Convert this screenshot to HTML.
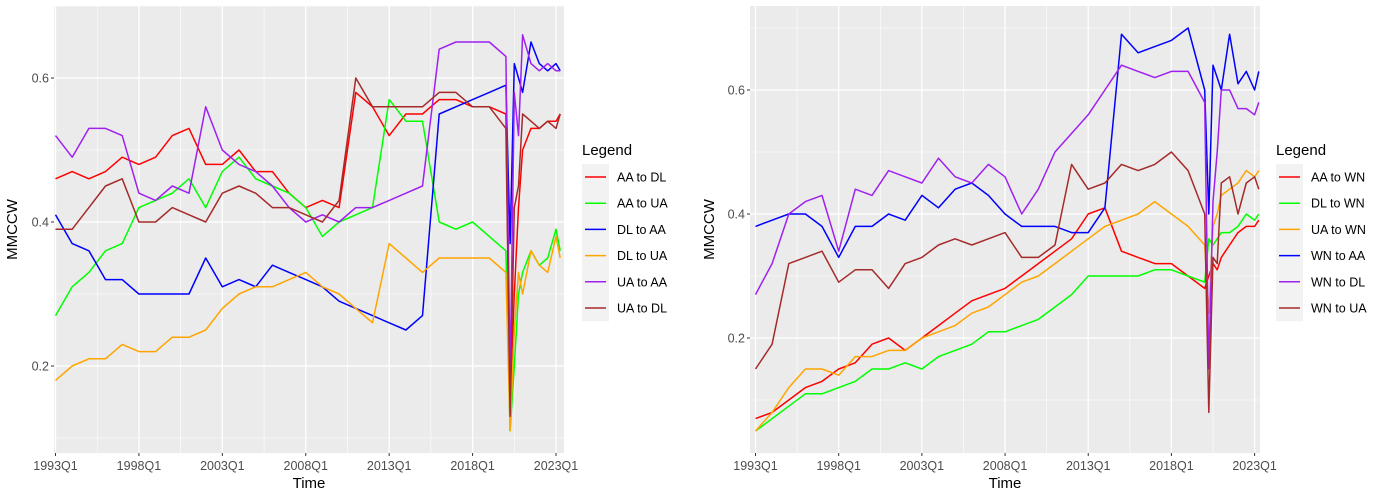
<!DOCTYPE html>
<html><head><meta charset="utf-8"><style>
body{margin:0;background:#fff;}
svg{display:block;font-family:"Liberation Sans",Arial,sans-serif;}
</style></head><body>
<svg id="c" width="1386" height="495" viewBox="0 0 1386 495"></svg>
<script>
const quarters=[0,4,8,12,16,20,24,28,32,36,40,44,48,52,56,60,64,68,72,76,80,84,88,92,96,100,104,108,109,110,111,112,114,116,118,120,121];
const xTickQuarters=[0,20,40,60,80,100,120];
const xTickLabels=["1993Q1","1998Q1","2003Q1","2008Q1","2013Q1","2018Q1","2023Q1"];
const yTicks=[0.2,0.4,0.6];
const yMinor=[0.1,0.3,0.5,0.7];
const names1=["AA to DL","AA to UA","DL to AA","DL to UA","UA to AA","UA to DL"];
const aaToDl=[.46,.47,.46,.47,.49,.48,.49,.52,.53,.48,.48,.50,.47,.47,.44,.42,.43,.42,.58,.56,.52,.55,.55,.57,.57,.56,.56,.55,.15,.30,.42,.50,.53,.53,.54,.54,.55];
const aaToUa=[.27,.31,.33,.36,.37,.42,.43,.44,.46,.42,.47,.49,.46,.45,.44,.42,.38,.40,.41,.42,.57,.54,.54,.40,.39,.40,.38,.36,.11,.20,.30,.33,.36,.34,.35,.39,.36];
const dlToAa=[.41,.37,.36,.32,.32,.30,.30,.30,.30,.35,.31,.32,.31,.34,.33,.32,.31,.29,.28,.27,.26,.25,.27,.55,.56,.57,.58,.59,.37,.62,.60,.58,.65,.62,.61,.62,.61];
const dlToUa=[.18,.20,.21,.21,.23,.22,.22,.24,.24,.25,.28,.30,.31,.31,.32,.33,.31,.30,.28,.26,.37,.35,.33,.35,.35,.35,.35,.33,.11,.25,.33,.30,.36,.34,.33,.38,.35];
const uaToAa=[.52,.49,.53,.53,.52,.44,.43,.45,.44,.56,.50,.48,.47,.45,.42,.40,.41,.40,.42,.42,.43,.44,.45,.64,.65,.65,.65,.63,.18,.58,.52,.66,.62,.61,.62,.61,.61];
const uaToDl=[.39,.39,.42,.45,.46,.40,.40,.42,.41,.40,.44,.45,.44,.42,.42,.41,.40,.43,.60,.56,.56,.56,.56,.58,.58,.56,.56,.53,.13,.42,.45,.55,.54,.53,.54,.53,.55];
const names2=["AA to WN","DL to WN","UA to WN","WN to AA","WN to DL","WN to UA"];
const aaToWn=[.07,.08,.10,.12,.13,.15,.16,.19,.20,.18,.20,.22,.24,.26,.27,.28,.30,.32,.34,.36,.40,.41,.34,.33,.32,.32,.30,.28,.30,.32,.31,.33,.35,.37,.38,.38,.39];
const dlToWn=[.05,.07,.09,.11,.11,.12,.13,.15,.15,.16,.15,.17,.18,.19,.21,.21,.22,.23,.25,.27,.30,.30,.30,.30,.31,.31,.30,.29,.36,.35,.36,.37,.37,.38,.40,.39,.40];
const uaToWn=[.05,.08,.12,.15,.15,.14,.17,.17,.18,.18,.20,.21,.22,.24,.25,.27,.29,.30,.32,.34,.36,.38,.39,.40,.42,.40,.38,.35,.24,.38,.40,.43,.44,.45,.47,.46,.47];
const wnToAa=[.38,.39,.40,.40,.38,.33,.38,.38,.40,.39,.43,.41,.44,.45,.43,.40,.38,.38,.38,.37,.37,.41,.69,.66,.67,.68,.70,.60,.40,.64,.62,.60,.69,.61,.63,.60,.63];
const wnToDl=[.27,.32,.40,.42,.43,.34,.44,.43,.47,.46,.45,.49,.46,.45,.48,.46,.40,.44,.50,.53,.56,.60,.64,.63,.62,.63,.63,.58,.15,.42,.50,.60,.60,.57,.57,.56,.58];
const wnToUa=[.15,.19,.32,.33,.34,.29,.31,.31,.28,.32,.33,.35,.36,.35,.36,.37,.33,.33,.35,.48,.44,.45,.48,.47,.48,.50,.47,.40,.08,.33,.32,.45,.46,.40,.45,.46,.44];
const colors1=["#ff0000","#00ff00","#0000ff","#ffa500","#a020f0","#a52a2a"];
const colors2=["#ff0000","#00ff00","#ffa500","#0000ff","#a020f0","#a52a2a"];

const NS="http://www.w3.org/2000/svg";
const svg=document.getElementById('c');
function mk(tag,attrs,parent){const e=document.createElementNS(NS,tag);for(const k in attrs)e.setAttribute(k,attrs[k]);(parent||svg).appendChild(e);return e;}

function panel(p){
  const g=mk('g',{});
  
  
  const xs=q=>p.x0q+q*(p.x120q-p.x0q)/120;
  const ysc=v=>p.y06+(0.6-v)*(p.y04-p.y06)/0.2;
  const bg=mk('rect',{x:p.L,y:p.T,width:p.R-p.L,height:p.B-p.T,fill:'#ebebeb'},g);
  
  
  for(const v of yMinor){const y=ysc(v);if(y>p.T&&y<p.B){const l=mk('line',{x1:p.L,x2:p.R,y1:y,y2:y,stroke:'#fff','stroke-width':0.6},g);}}
  for(let i=0;i<xTickQuarters.length-1;i++){const x=xs((xTickQuarters[i]+xTickQuarters[i+1])/2);const l=mk('line',{x1:x,x2:x,y1:p.T,y2:p.B,stroke:'#fff','stroke-width':0.6},g);}
  for(const v of yTicks){const y=ysc(v);
    const l=mk('line',{x1:p.L,x2:p.R,y1:y,y2:y,stroke:'#fff','stroke-width':1.3},g);
    
    mk('line',{x1:p.L-3,x2:p.L,y1:y,y2:y,stroke:'#333','stroke-width':1},g);
    const t=mk('text',{x:p.L-5,y:y+4.5,'text-anchor':'end','font-size':12.5,fill:'#4d4d4d'},g);t.textContent=v.toFixed(1);
    }
  xTickQuarters.forEach((q,i)=>{const x=xs(q);
    const l=mk('line',{x1:x,x2:x,y1:p.T,y2:p.B,stroke:'#fff','stroke-width':1.3},g);
    
    mk('line',{x1:x,x2:x,y1:p.B,y2:p.B+3,stroke:'#333','stroke-width':1},g);
    const t=mk('text',{x:x,y:p.B+17,'text-anchor':'middle','font-size':12.5,fill:'#4d4d4d'},g);t.textContent=xTickLabels[i];
    });
  p.series.forEach((vals,si)=>{
    const d=vals.map((v,i)=>(i?'L':'M')+xs(quarters[i]).toFixed(1)+' '+ysc(v).toFixed(1)).join(' ');
    const path=mk('path',{d:d,fill:'none',stroke:p.colors[si],'stroke-width':1.5,'stroke-linejoin':'round'},g);
    
    
  });
  const xt=mk('text',{x:(p.L+p.R)/2,y:p.B+35,'text-anchor':'middle','font-size':15,fill:'#000'},g);xt.textContent='Time';
  
  const yt=mk('text',{x:0,y:0,'text-anchor':'middle','font-size':15,fill:'#000',transform:'translate('+p.yTitleX+' '+((p.T+p.B)/2)+') rotate(-90)'},g);yt.textContent='MMCCW';
  
  const lg=mk('g',{},g);
  
  const lt=mk('text',{x:p.legX,y:155,'font-size':15,fill:'#000'},lg);lt.textContent='Legend';
  
  p.names.forEach((n,i)=>{const cy=177+i*26.2;
    const e=mk('g',{},lg);
    mk('rect',{x:p.legX,y:cy-13,width:27,height:26.2,fill:'#f2f2f2'},e);
    mk('line',{x1:p.legX+3,x2:p.legX+24,y1:cy,y2:cy,stroke:p.colors[i],'stroke-width':1.5},e);
    const t=mk('text',{x:p.legX+35,y:cy+4.5,'font-size':12.5,fill:'#000'},e);t.textContent=n;});
}
panel({id:'left',L:54,R:564,T:6,B:453,x0q:55.5,x120q:556,y06:78,y04:222,series:[aaToDl,aaToUa,dlToAa,dlToUa,uaToAa,uaToDl],names:names1,colors:colors1,legX:582,yTitleX:17});
panel({id:'right',L:750,R:1260,T:6,B:453,x0q:755.5,x120q:1254.6,y06:90,y04:214,series:[aaToWn,dlToWn,uaToWn,wnToAa,wnToDl,wnToUa],names:names2,colors:colors2,legX:1276,yTitleX:714});
</script>
</body></html>
